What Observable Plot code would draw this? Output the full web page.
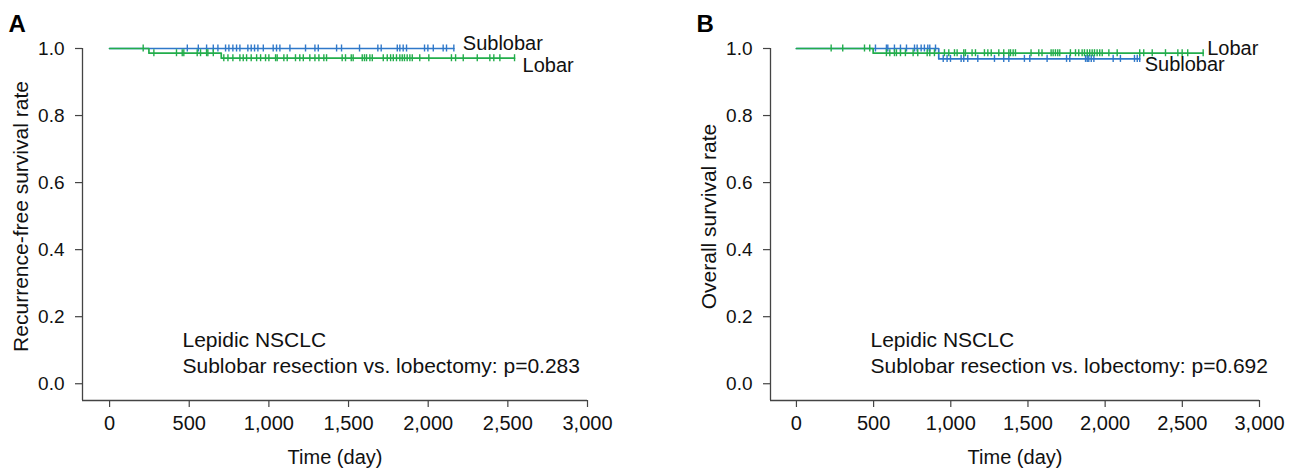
<!DOCTYPE html>
<html>
<head>
<meta charset="utf-8">
<script src="https://cdn.jsdelivr.net/npm/d3@7"></script>
<script src="https://cdn.jsdelivr.net/npm/@observablehq/plot@0.6"></script>
<style>
  html, body { margin: 0; padding: 0; background: #ffffff; }
  #wrap { position: relative; width: 1315px; height: 470px; overflow: hidden; background: #fff; }
  #pa { position: absolute; left: 0; top: 0; }
  #pb { position: absolute; left: 688px; top: 0; }
</style>
</head>
<body>
<div id="wrap"><div id="pa"></div><div id="pb"></div></div>
<script>
// ---------- data ----------
const groups = ["Sublobar", "Lobar"];
const xTicks = [0, 500, 1000, 1500, 2000, 2500, 3000];
const yTicks = [0, 0.2, 0.4, 0.6, 0.8, 1.0];

// Panel A: recurrence-free survival
const aSubEventTimes = [];
const aSubEventLevels = [];
const aSubEnd = 2161;
const aSubCensor = [488, 557, 609, 651, 680, 728, 749, 774, 797, 818, 868, 889, 910, 931, 965, 1027, 1048, 1069, 1132, 1230, 1289, 1310, 1425, 1456, 1569, 1684, 1705, 1806, 1822, 1843, 1864, 1977, 1998, 2032, 2094, 2115, 2161];

const aLobEventTimes = [247, 701];
const aLobEventLevels = [0.986, 0.971];
const aLobEnd = 2542;
const aLobCensor = [211, 278, 420, 456, 466, 550, 571, 609, 617, 651, 717, 743, 774, 818, 839, 860, 889, 923, 948, 979, 1000, 1042, 1052, 1094, 1115, 1167, 1194, 1216, 1257, 1289, 1314, 1345, 1362, 1460, 1481, 1517, 1529, 1586, 1600, 1613, 1634, 1649, 1718, 1743, 1764, 1781, 1801, 1822, 1837, 1851, 1868, 1885, 1900, 1947, 2004, 2146, 2172, 2220, 2308, 2387, 2412, 2450, 2542];

// Panel B: overall survival
const bSubEventTimes = [922];
const bSubEventLevels = [0.969];
const bSubEnd = 2224;
const bSubCensor = [512, 583, 592, 635, 674, 713, 765, 782, 808, 829, 851, 864, 901, 951, 976, 998, 1067, 1084, 1110, 1175, 1283, 1343, 1376, 1477, 1512, 1624, 1750, 1771, 1873, 1884, 1894, 1910, 1927, 2052, 2099, 2190, 2208, 2224];

const bLobEventTimes = [497];
const bLobEventLevels = [0.986];
const bLobEnd = 2635;
const bLobCensor = [225, 300, 441, 475, 583, 605, 635, 648, 674, 706, 756, 786, 847, 864, 894, 959, 987, 1024, 1041, 1084, 1095, 1138, 1160, 1218, 1240, 1262, 1311, 1343, 1376, 1387, 1404, 1419, 1520, 1570, 1591, 1650, 1663, 1678, 1693, 1706, 1775, 1808, 1829, 1851, 1866, 1884, 1900, 1916, 1931, 1948, 1965, 1981, 2024, 2078, 2224, 2250, 2305, 2391, 2471, 2499, 2535, 2635];

const titles = ["Recurrence-free survival rate", "Overall survival rate"];
const letters = ["A", "B"];
const annotations = [
  "Lepidic NSCLC\nSublobar resection vs. lobectomy: p=0.283",
  "Lepidic NSCLC\nSublobar resection vs. lobectomy: p=0.692"
];
const xTitle = "Time (day)";

// ---------- helpers ----------
const FONT = "'Liberation Sans', Arial, Helvetica, sans-serif";
const COLORS = { Sublobar: "#2f78c9", Lobar: "#22ad4b" };
const AXIS = "#444";

function survAt(times, levels, t) {
  let s = 1;
  for (let i = 0; i < times.length; i++) if (times[i] <= t) s = levels[i];
  return s;
}
function kmPoints(times, levels, end) {
  const pts = [{ t: 0, s: 1 }];
  times.forEach((t, i) => pts.push({ t, s: levels[i] }));
  pts.push({ t: end, s: levels.length ? levels[levels.length - 1] : 1 });
  return pts;
}
function makeSeries(name, times, levels, end, censor) {
  return {
    name,
    line: kmPoints(times, levels, end),
    censor: censor.map(t => ({ t, s: survAt(times, levels, t) })),
    endPoint: { t: end, s: levels.length ? levels[levels.length - 1] : 1, name }
  };
}

function panel(cfg) {
  const xmin = cfg.xmin, ymin = -0.05;
  const marks = [
    Plot.axisX({ ticks: xTicks, tickFormat: d3.format(","), tickSize: 7, tickPadding: 8, fontSize: 20, label: null, stroke: AXIS, strokeWidth: 1.2, fill: "#111" }),
    Plot.axisY({ ticks: yTicks, tickFormat: d3.format(".1f"), tickSize: 7, tickPadding: 11, fontSize: 19, label: null, stroke: AXIS, strokeWidth: 1.2, fill: "#111" }),
    Plot.ruleY([ymin], { x1: xmin, x2: 3000, stroke: AXIS, strokeWidth: 1.3 }),
    Plot.ruleX([xmin], { y1: ymin, y2: 1, stroke: AXIS, strokeWidth: 1.3 })
  ];
  for (const s of cfg.series) {
    marks.push(Plot.line(s.line, { x: "t", y: "s", curve: "step-after", stroke: COLORS[s.name], strokeWidth: 1.7 }));
    marks.push(Plot.ruleX(s.censor, { x: "t", y1: d => d.s - 0.0105, y2: d => d.s + 0.0105, stroke: COLORS[s.name], strokeWidth: 1.4 }));
  }
  for (const s of cfg.series) {
    const off = cfg.labelOffsets[s.name];
    marks.push(Plot.text([s.endPoint], { x: "t", y: "s", text: "name", textAnchor: "start", lineAnchor: "middle", dx: off[0], dy: off[1], fontSize: 20, fill: "#111" }));
  }
  marks.push(
    Plot.text([cfg.annotation], { frameAnchor: "bottom-left", textAnchor: "start", lineAnchor: "bottom", dx: 100, dy: -28, lineHeight: 26 / 21, fontSize: 21, fill: "#111" }),
    Plot.text([cfg.title], { frameAnchor: "left", rotate: -90, textAnchor: "middle", lineAnchor: "bottom", dx: -55, dy: -8, fontSize: 21, fill: "#111" }),
    Plot.text([xTitle], { frameAnchor: "bottom", textAnchor: "middle", lineAnchor: "bottom", dy: 63, fontSize: 20, fill: "#111" }),
    Plot.text([cfg.letter], { frameAnchor: "top-left", textAnchor: "start", lineAnchor: "bottom", dx: -74, dy: -17, fontSize: 24, fontWeight: "bold", fill: "#000" })
  );
  return Plot.plot({
    width: cfg.width,
    height: 470,
    marginLeft: 82,
    marginRight: cfg.marginRight,
    marginTop: 48,
    marginBottom: 70,
    x: { domain: [xmin, 3000], axis: null },
    y: { domain: [ymin, 1], axis: null },
    style: { fontFamily: FONT, background: "#fff", overflow: "visible", color: "#111" },
    marks
  });
}

const panelA = panel({
  width: 688, marginRight: 101, xmin: -170,
  letter: letters[0], title: titles[0], annotation: annotations[0],
  series: [
    makeSeries(groups[0], aSubEventTimes, aSubEventLevels, aSubEnd, aSubCensor),
    makeSeries(groups[1], aLobEventTimes, aLobEventLevels, aLobEnd, aLobCensor)
  ],
  labelOffsets: { Sublobar: [9, -5], Lobar: [8, 7] }
});
const panelB = panel({
  width: 627, marginRight: 56, xmin: -168,
  letter: letters[1], title: titles[1], annotation: annotations[1],
  series: [
    makeSeries(groups[0], bSubEventTimes, bSubEventLevels, bSubEnd, bSubCensor),
    makeSeries(groups[1], bLobEventTimes, bLobEventLevels, bLobEnd, bLobCensor)
  ],
  labelOffsets: { Sublobar: [5, 6], Lobar: [4, -5] }
});
document.getElementById("pa").appendChild(panelA);
document.getElementById("pb").appendChild(panelB);
</script>
</body>
</html>
